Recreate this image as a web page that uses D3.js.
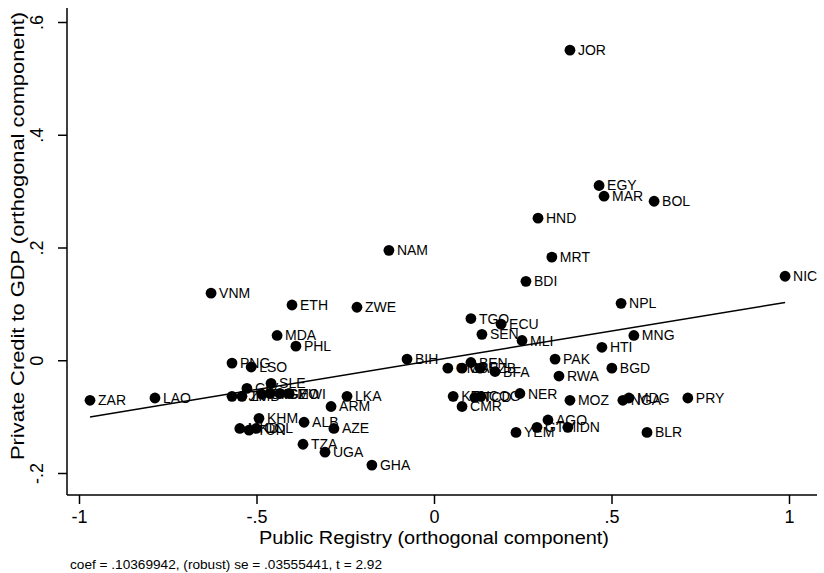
<!DOCTYPE html>
<html><head><meta charset="utf-8">
<script src="https://cdn.jsdelivr.net/npm/d3@7"></script>
<style>body{margin:0;background:#fff}svg{display:block}text{font-family:"Liberation Sans",Arial,sans-serif;fill:#000}</style>
</head><body>
<svg id="c" width="824" height="573"></svg>
<script>
const codes = ["ZAR","LAO","VNM","ETH","ZWE","NAM","MDA","PHL","PNG","LSO","SLE","CIV","TJK","ZMB","GIN","KGZ","GEO","MWI","LKA","ARM","KHM","ALB","AZE","MKD","TUN","COL","TZA","UGA","GHA","BIH","GMB","CAF","BEN","UZB","BFA","TGO","ECU","SEN","MLI","BDI","MRT","HND","JOR","EGY","MAR","BOL","NIC","NPL","MNG","HTI","PAK","BGD","RWA","NER","KEN","CMR","TCD","COG","MOZ","NGA","MDG","PRY","AGO","GTM","IDN","YEM","BLR"];
const xVals = [-0.969,-0.786,-0.628,-0.400,-0.217,-0.127,-0.442,-0.389,-0.569,-0.515,-0.459,-0.527,-0.569,-0.541,-0.485,-0.462,-0.434,-0.408,-0.245,-0.290,-0.493,-0.366,-0.282,-0.547,-0.521,-0.501,-0.369,-0.307,-0.175,-0.076,0.039,0.079,0.104,0.130,0.172,0.104,0.189,0.135,0.248,0.259,0.332,0.293,0.383,0.465,0.479,0.620,0.989,0.527,0.563,0.473,0.341,0.501,0.352,0.242,0.054,0.079,0.115,0.132,0.383,0.532,0.549,0.715,0.321,0.290,0.377,0.231,0.600];
const yVals = [-0.071,-0.067,0.119,0.098,0.094,0.195,0.044,0.025,-0.005,-0.012,-0.041,-0.050,-0.064,-0.064,-0.060,-0.059,-0.059,-0.059,-0.064,-0.082,-0.103,-0.110,-0.121,-0.121,-0.124,-0.121,-0.149,-0.163,-0.186,0.002,-0.014,-0.014,-0.004,-0.014,-0.020,0.074,0.064,0.046,0.035,0.140,0.183,0.252,0.550,0.310,0.291,0.282,0.149,0.101,0.044,0.023,0.002,-0.014,-0.028,-0.059,-0.064,-0.082,-0.066,-0.064,-0.071,-0.071,-0.067,-0.067,-0.106,-0.119,-0.119,-0.128,-0.128];
const xTicks = [-1,-0.5,0,0.5,1];
const xTickLabels = ["-1","-.5","0",".5","1"];
const yTicks = [-0.2,0,0.2,0.4,0.6];
const yTickLabels = ["-.2","0",".2",".4",".6"];
const coef = 0.10369942;
const xTitle = "Public Registry (orthogonal component)";
const yTitle = "Private Credit to GDP (orthogonal component)";
const note = "coef = .10369942, (robust) se = .03555441, t = 2.92";

const data = codes.map((c,i)=>({c, x:xVals[i], y:yVals[i]}));
const svg = d3.select("#c");
const x = d3.scaleLinear().domain([-1,1]).range([79,789]);
const y = d3.scaleLinear().domain([-0.2,0.6]).range([473,22]);
const axX = 495, axY = 67;

svg.append("line").attr("x1",axY).attr("x2",817).attr("y1",axX).attr("y2",axX).attr("stroke","#000").attr("stroke-width",1.5);
svg.append("line").attr("x1",axY).attr("x2",axY).attr("y1",8).attr("y2",axX).attr("stroke","#000").attr("stroke-width",1.5);

const gx = svg.append("g").attr("transform",`translate(0,${axX})`)
  .call(d3.axisBottom(x).tickValues(xTicks).tickFormat((d,i)=>xTickLabels[i]).tickSize(9).tickPadding(6));
gx.select(".domain").remove();
gx.selectAll("line").attr("stroke-width",1.5);
gx.selectAll("text").style("font-size","18px").attr("font-family",null);

const gy = svg.append("g").attr("transform",`translate(${axY},0)`)
  .call(d3.axisLeft(y).tickValues(yTicks).tickFormat((d,i)=>yTickLabels[i]).tickSize(9).tickPadding(6));
gy.select(".domain").remove();
gy.selectAll("line").attr("stroke-width",1.5);
gy.selectAll("text").style("font-size","18px").attr("font-family",null)
  .attr("x",null).attr("dy",null)
  .attr("text-anchor","middle")
  .attr("transform","translate(-24,0) rotate(-90)");

svg.append("text").attr("x",434).attr("y",544).attr("text-anchor","middle").style("font-size","18px")
  .attr("textLength",350).attr("lengthAdjust","spacingAndGlyphs").text(xTitle);
svg.append("text").attr("transform","translate(24,236) rotate(-90)").attr("text-anchor","middle").style("font-size","18px")
  .attr("textLength",448).attr("lengthAdjust","spacingAndGlyphs").text(yTitle);
svg.append("text").attr("x",70).attr("y",569).style("font-size","13px")
  .attr("textLength",312).attr("lengthAdjust","spacingAndGlyphs").text(note);

const xr = d3.extent(xVals);
svg.append("path").attr("d",d3.line().x(d=>x(d)).y(d=>y(coef*d))(xr)).attr("stroke","#000").attr("stroke-width",1.5).attr("fill","none");

svg.append("g").selectAll("circle").data(data).join("circle")
  .attr("cx",d=>x(d.x)).attr("cy",d=>y(d.y)).attr("r",5.4).attr("fill","#000");
svg.append("g").selectAll("text").data(data).join("text")
  .attr("x",d=>x(d.x)+8).attr("y",d=>y(d.y)+5).style("font-size","14px").text(d=>d.c);
</script>
</body></html>
